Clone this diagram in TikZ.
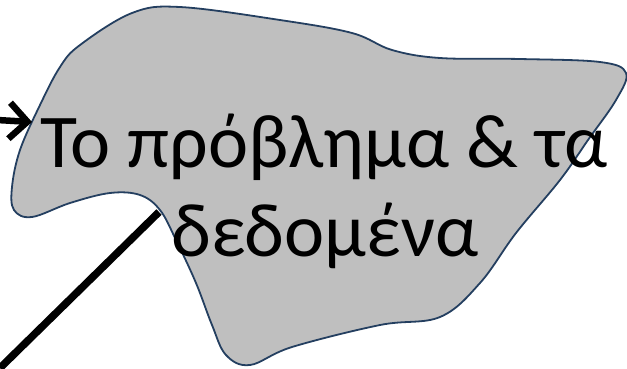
\documentclass[tikz,border=0pt]{standalone}
\usepackage{fontspec}
\setmainfont{Carlito}
\usetikzlibrary{arrows.meta}
\definecolor{blobfill}{HTML}{BFBFBF}
\definecolor{blobline}{HTML}{243F60}
\tikzset{
  blobshape/.style={fill=blobfill,draw=blobline,line width=1.8pt},
  blobtext/.style={anchor=base,font=\fontsize{76}{89}\selectfont,inner sep=0pt},
  thickline/.style={line width=7.5pt,black},
  inarrow/.style={line width=6.5pt,black,-{Straight Barb[length=18pt,width=36pt]}}
}
\begin{document}
\begin{tikzpicture}[x=1pt,y=-1pt]
\useasboundingbox (0,0) rectangle (627,368);
\draw[blobshape] plot[smooth cycle,tension=0.6] coordinates {
 (80,45) (132,13) (180,7) (280,20) (352,33) (392,50) (440,58) (520,59) (600,62) (626,73)
 (616,100) (588,140) (560,180) (516,233) (480,283) (440,317) (380,325) (292,347) (250,365)
 (226,355) (212,325) (196,283) (176,240) (160,210) (140,195) (110,193) (70,203) (32,217)
 (14,210) (12,187) (20,150) (40,105) (60,67)};
\node[blobtext] (label1) at (324,167) {Το πρόβλημα \& τα};
\node[blobtext] (label2) at (325,256) {δεδομένα};
\coordinate (arrowstart) at (-20,119);
\coordinate (arrowend) at (32,122);
\coordinate (linestart) at (0,368);
\coordinate (lineend) at (159,212);
\draw[inarrow] (arrowstart) -- (arrowend);
\draw[thickline] (linestart) -- (lineend);
\end{tikzpicture}
\end{document}
